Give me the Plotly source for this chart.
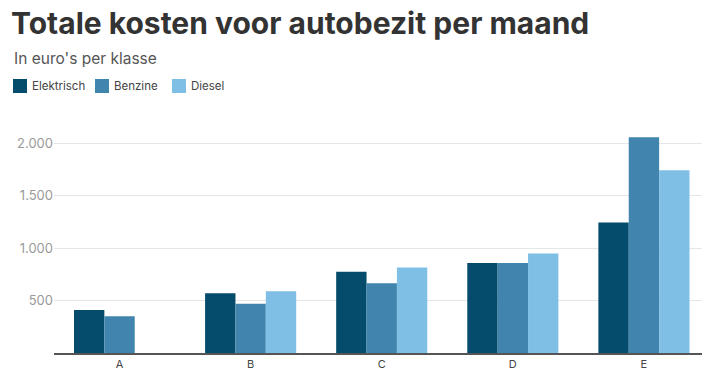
import plotly.graph_objects as go

categories = ["A", "B", "C", "D", "E"]
series_names = ["Elektrisch", "Benzine", "Diesel"]
elektrisch = [410, 570, 775, 860, 1245]
benzine = [350, 470, 665, 860, 2060]
diesel = [None, 590, 815, 950, 1745]
y_tickvals = [500, 1000, 1500, 2000]
y_ticktext = ["500", "1.000", "1.500", "2.000"]

colors = ["#044b6c", "#4185ae", "#80bfe5"]
FONT = "Inter, Lato, sans-serif"

W, H = 702, 376
L, R, T, B = 54, 0, 133, 23
PW, PH = W - L - R, H - T - B

def px_x(p):
    return (p - L) / PW

def px_y(p):
    return (H - B - p) / PH

fig = go.Figure()
for name, vals, c in zip(series_names, [elektrisch, benzine, diesel], colors):
    fig.add_trace(go.Bar(x=categories, y=vals, name=name, marker_color=c,
                         marker_line_width=0, showlegend=False))

fig.update_layout(
    width=W, height=H,
    margin=dict(l=L, r=R, t=T, b=B),
    paper_bgcolor="white", plot_bgcolor="white",
    barmode="group", bargap=0.305, bargroupgap=0,
    font=dict(family=FONT, color="#333"),
    title=dict(text="<b>Totale kosten voor autobezit per maand</b>",
               x=11 / W, xref="container", xanchor="left",
               y=1 - 23 / H, yref="container", yanchor="middle",
               font=dict(size=30, color="#333", family=FONT)),
    xaxis=dict(range=[-0.5, 4.443], showline=True, linecolor="#555",
               linewidth=1.5, ticks="", tickfont=dict(size=11, color="#444"),
               showgrid=False),
    yaxis=dict(range=[0, 2100], tickvals=y_tickvals, ticktext=y_ticktext,
               gridcolor="#e6e6e6", gridwidth=1, zeroline=False,
               tickfont=dict(size=13, color="#9a9a9a"), ticks=""),
)
fig.add_annotation(text="In euro's per klasse", x=px_x(12), xref="paper",
                   y=px_y(58), yref="paper", xanchor="left", yanchor="middle",
                   showarrow=False, font=dict(size=15.5, color="#555", family=FONT))

# custom legend (compact, like the reference)
leg_x = [13, 95, 172]
for name, c, lx in zip(series_names, colors, leg_x):
    fig.add_shape(type="rect", xref="paper", yref="paper",
                  x0=px_x(lx), x1=px_x(lx + 14), y0=px_y(93), y1=px_y(79),
                  fillcolor=c, line_width=0)
    fig.add_annotation(text=name, x=px_x(lx + 17), xref="paper",
                       y=px_y(86), yref="paper", xanchor="left",
                       yanchor="middle", showarrow=False,
                       font=dict(size=11.5, color="#444", family=FONT))
fig.write_html("out.html")
